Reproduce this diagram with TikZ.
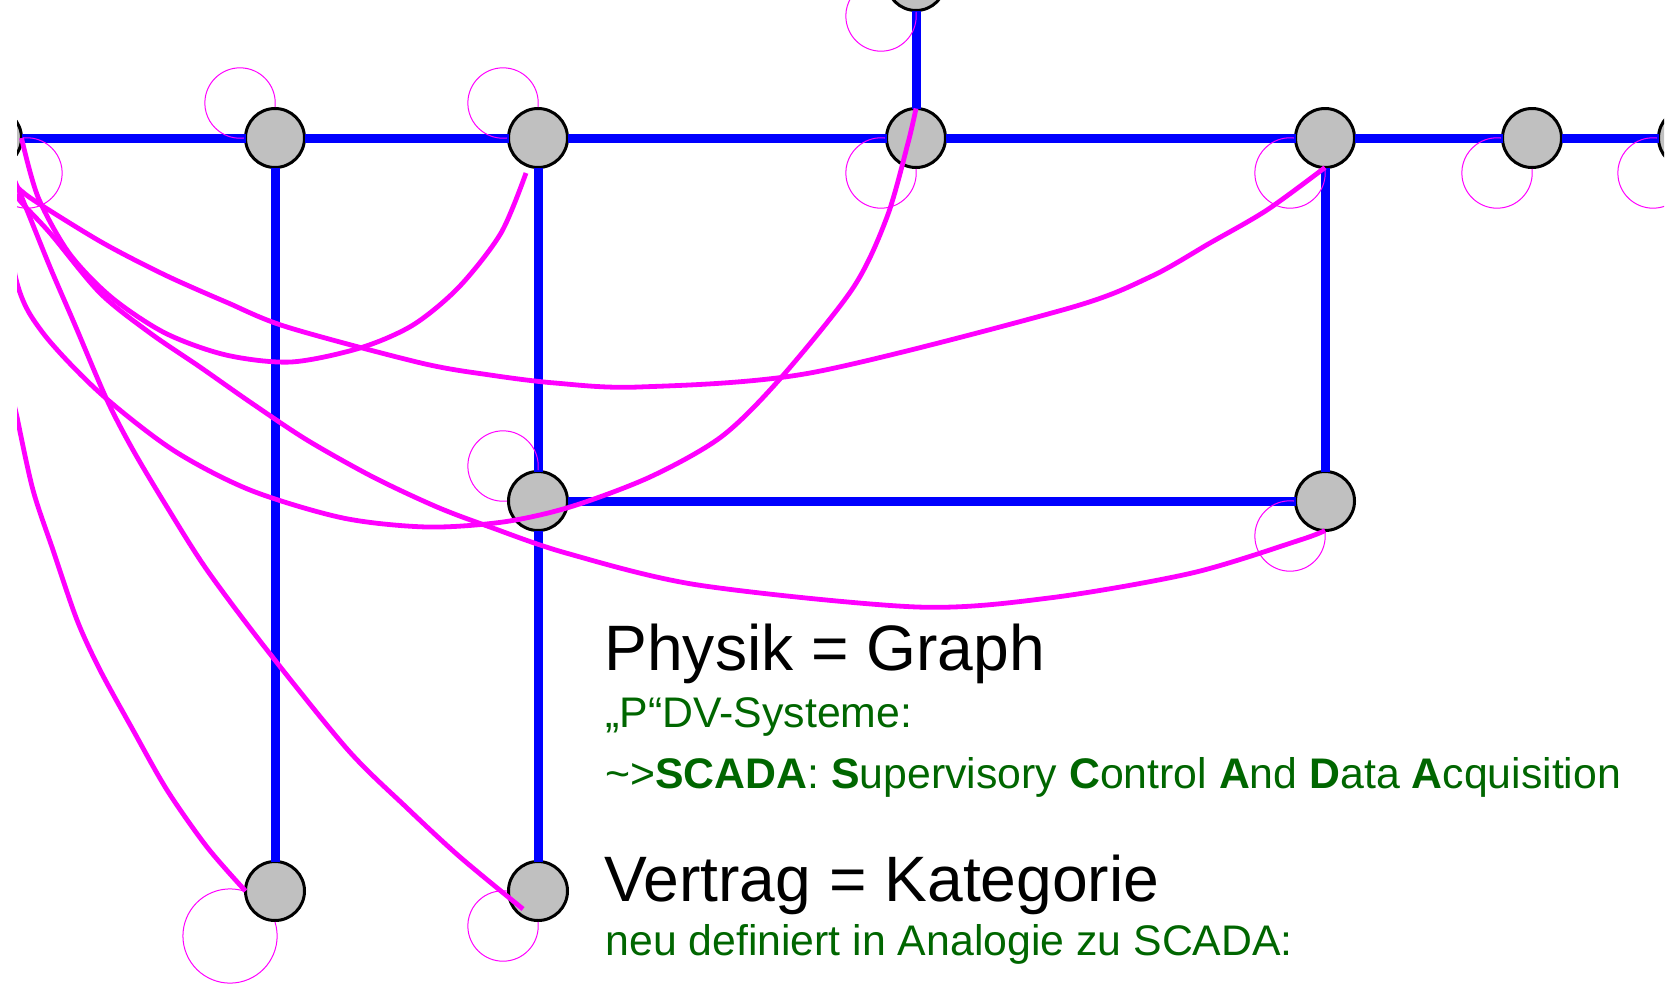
\documentclass[tikz,border=0pt]{standalone}
\usepackage{fontspec}
\setmainfont{Liberation Sans}
\usetikzlibrary{calc}
\definecolor{mag}{RGB}{255,0,255}
\definecolor{dgreen}{RGB}{0,102,0}
\definecolor{ngray}{RGB}{192,192,192}
\begin{document}
\begin{tikzpicture}[x=0.5pt,y=-0.5pt,
  obj/.style={circle,draw=black,fill=ngray,line width=1.5pt,minimum size=29.5pt,inner sep=0pt,outer sep=0pt},
  phys/.style={draw=blue,line width=4.5pt},
  selfloop/.style={draw=mag,line width=0.5pt},
  morph/.style={draw=mag,line width=2.4pt},
  bigtxt/.style={anchor=base west,inner sep=0pt,font=\fontsize{32.1pt}{38pt}\selectfont},
  smalltxt/.style={anchor=base west,inner sep=0pt,text=dgreen,font=\fontsize{21.4pt}{25pt}\selectfont}]
\useasboundingbox (0,0) rectangle (1671,986);
\fill[white] (0,0) rectangle (1671,986);
\begin{scope}
\clip (17,0) rectangle (1664,986);
% objects
\node[obj] (L)  at (-8,138) {};
\node[obj] (T1) at (275,138) {};
\node[obj] (T2) at (538,138) {};
\node[obj] (T3) at (916,138) {};
\node[obj] (T0) at (916,-19) {};
\node[obj] (T4) at (1325,138) {};
\node[obj] (T5) at (1532,138) {};
\node[obj] (R)  at (1688,138) {};
\node[obj] (M1) at (538,501) {};
\node[obj] (M2) at (1325,501) {};
\node[obj] (B1) at (275,891) {};
\node[obj] (B2) at (538,891) {};
% physical links
\draw[phys] (L) -- (T1);
\draw[phys] (T1) -- (T2);
\draw[phys] (T2) -- (T3);
\draw[phys] (T3) -- (T4);
\draw[phys] (T4) -- (T5);
\draw[phys] (T5) -- (R);
\draw[phys] (T0) -- (T3);
\draw[phys] (T1) -- (B1);
\draw[phys] (T2) -- (M1);
\draw[phys] (M1) -- (B2);
\draw[phys] (M1) -- (M2);
\draw[phys] (T4) -- (M2);
% identity loops
\draw[selfloop] (L.center) ++(0,31) arc[start angle=186.5, end angle=-96.5, radius=35.2];
\draw[selfloop] (T1.center) ++(0,-31) arc[start angle=6.5, end angle=-276.5, radius=35.2];
\draw[selfloop] (T2.center) ++(0,-31) arc[start angle=6.5, end angle=-276.5, radius=35.2];
\draw[selfloop] (M1.center) ++(0,-31) arc[start angle=6.5, end angle=-276.5, radius=35.2];
\draw[selfloop] (T3.center) ++(0,31) arc[start angle=-6.5, end angle=276.5, radius=35.2];
\draw[selfloop] (T0.center) ++(0,31) arc[start angle=-6.5, end angle=276.5, radius=35.2];
\draw[selfloop] (T4.center) ++(0,31) arc[start angle=-6.5, end angle=276.5, radius=35.2];
\draw[selfloop] (T5.center) ++(0,31) arc[start angle=-6.5, end angle=276.5, radius=35.2];
\draw[selfloop] (R.center) ++(0,31) arc[start angle=-6.5, end angle=276.5, radius=35.2];
\draw[selfloop] (M2.center) ++(0,31) arc[start angle=-6.5, end angle=276.5, radius=35.2];
\draw[selfloop] (B2.center) ++(0,31) arc[start angle=-6.5, end angle=276.5, radius=35.2];
\draw[selfloop] (B1.center) ++(0,31) arc[start angle=-17.3, end angle=287.3, radius=47.1];
% morphisms
\draw[morph] plot[smooth] coordinates {(L.east) (38,197) (69,253) (111,297) (165,333) (226,355) (291,362) (360,348) (413,325) (459,287) (501,233) ($(T2.center)+(-12,35)$)};
\draw[morph] plot[smooth] coordinates {(L.-75) (17,187) (38,203) (103,243) (165,275) (226,302) (287,327) (421,363) (490,375) (555,383) (639,387) (810,373) (1066,309) (1150,277) (1210,243) (1267,210) (T4.south)};
\draw[morph] plot[smooth] coordinates {(L.-75) (17,197) (50,233) (100,293) (150,333) (200,367) (250,402) (307,440) (373,477) (437,507) (490,527) (566,553) (698,585) (917,607) (1049,598) (1192,573) (1300,540) (M2.south)};
\draw[morph] plot[smooth] coordinates {(L.-80) (17,283) (43,333) (100,393) (173,450) (250,490) (343,518) (427,527) (503,522) (570,507) (650,477) (721,437) (779,380) (853,288) (887,217) (908,143) (T3.north)};
\draw[morph] plot[smooth] coordinates {(L.-88) (5,355) (17,417) (33,490) (53,550) (77,620) (100,670) (133,730) (167,790) (207,847) (B1.west)};
\draw[morph] plot[smooth] coordinates {(L.-60) (20,193) (50,267) (75,325) (107,400) (133,450) (167,507) (207,570) (267,650) (348,750) (406,807) (460,857) ($(B2.center)+(-15,18)$)};
\end{scope}
% texts
\node[bigtxt] (h1) at (604,670) {Physik = Graph};
\node[smalltxt] (s1) at (605,727) {„P“DV-Systeme:};
\node[smalltxt] (s2) at (605,788) {\textasciitilde>\textbf{SCADA}: \textbf{S}upervisory \textbf{C}ontrol \textbf{A}nd \textbf{D}ata \textbf{A}cquisition};
\node[bigtxt] (h2) at (604,901) {Vertrag = Kategorie};
\node[smalltxt] (s3) at (605,955) {neu definiert in Analogie zu SCADA:};
\end{tikzpicture}
\end{document}
